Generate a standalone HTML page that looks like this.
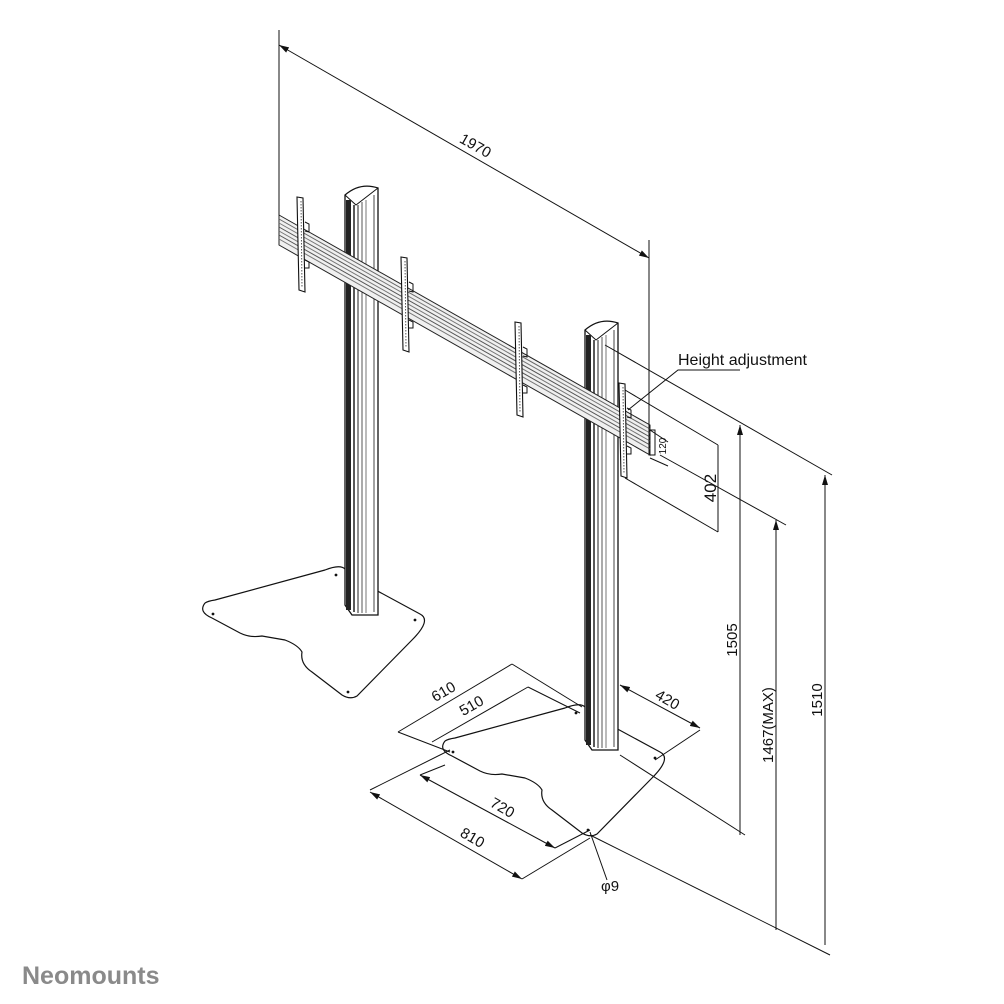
<!DOCTYPE html>
<html><head><style>
html,body{margin:0;padding:0;background:#fff}
svg{display:block}
text{font-family:"Liberation Sans",Arial,sans-serif;fill:#111}
</style></head><body>
<svg width="1004" height="1004" viewBox="0 0 1004 1004" xmlns="http://www.w3.org/2000/svg">
<defs>
<marker id="a" viewBox="0 0 10 6" refX="10" refY="3" markerWidth="10" markerHeight="6" orient="auto-start-reverse" markerUnits="userSpaceOnUse"><path d="M0,0 L10,3 L0,6z" fill="#111"/></marker>
<g id="pillar">
<path d="M345,195 Q360,182 378,188 L378,615 L352,615 L345,605 Z" fill="#fff" stroke="#111" stroke-width="1.3"/>
<path d="M345,195 L356,205 L378,188" fill="none" stroke="#111" stroke-width="1"/>
<rect x="346" y="200" width="5" height="410" fill="#222"/>
<line x1="354" y1="205" x2="354" y2="612" stroke="#222" stroke-width="1.5"/>
<line x1="358" y1="205" x2="358" y2="613" stroke="#222" stroke-width="1"/>
<line x1="362" y1="202" x2="362" y2="613" stroke="#555" stroke-width="1"/>
<line x1="366" y1="200" x2="366" y2="613" stroke="#777" stroke-width="1"/>
<line x1="374" y1="195" x2="374" y2="612" stroke="#444" stroke-width="1"/>
</g>
<g id="base">
<path d="M205,603 Q198,612 212,618 L240,633 Q250,638 262,636 L285,640 Q298,645 302,652 Q300,664 312,672 L342,695 Q350,700 357,696 L412,640 Q432,620 420,614 L372,588 M345,569 Q340,564 325,570 L215,600 Q208,601 205,603" fill="none" stroke="#111" stroke-width="1.2"/>
<circle cx="213" cy="614" r="1.4" fill="#111"/><circle cx="336" cy="575" r="1.4" fill="#111"/><circle cx="415" cy="620" r="1.4" fill="#111"/><circle cx="348" cy="692" r="1.4" fill="#111"/>
</g>
<g id="br">
<path d="M297,197 L303,198 L305,292 L299,290 Z" fill="#fff" stroke="#111" stroke-width="1.1"/>
<line x1="301" y1="201" x2="302" y2="288" stroke="#555" stroke-dasharray="1.5,1.5"/>
<path d="M305,222 L309,224 L309,232 L305,231 M305,260 L309,262 L309,268 L305,268" fill="none" stroke="#111"/>
</g>
</defs>

<use href="#base"/>
<use href="#base" transform="translate(240,138)"/>
<use href="#pillar"/>
<use href="#pillar" transform="translate(240,135)"/>

<g stroke-width="1">
<path d="M279,215 L650,425 L650,455 L279,245 Z" fill="#f0f0f0" stroke="#222"/>
<line x1="279" y1="219" x2="650" y2="429" stroke="#666"/>
<line x1="279" y1="223" x2="650" y2="433" stroke="#777"/>
<line x1="279" y1="227" x2="650" y2="437" stroke="#555"/>
<line x1="279" y1="231" x2="650" y2="441" stroke="#777"/>
<line x1="279" y1="235" x2="650" y2="445" stroke="#555"/>
<line x1="279" y1="239" x2="650" y2="449" stroke="#777"/>
</g>
<use href="#br"/>
<use href="#br" transform="translate(104,60)"/>
<use href="#br" transform="translate(218,125)"/>
<use href="#br" transform="translate(322,186)"/>

<g stroke="#111" stroke-width="1" fill="none">
<line x1="279" y1="30" x2="279" y2="215"/>
<line x1="649" y1="240" x2="649" y2="455"/>
<line x1="279" y1="45" x2="649" y2="258" marker-start="url(#a)" marker-end="url(#a)"/>
<polyline points="740,370 678,370 628,410"/>
<rect x="649" y="430" width="6" height="25"/>
<line x1="650" y1="430" x2="668" y2="442"/>
<line x1="650" y1="458" x2="668" y2="466"/>
<line x1="625" y1="390" x2="718" y2="445"/>
<line x1="625" y1="478" x2="718" y2="532"/>
<line x1="718" y1="445" x2="718" y2="532"/>
<line x1="605" y1="345" x2="832" y2="475"/>
<line x1="660" y1="455" x2="786" y2="525"/>
<line x1="620" y1="755" x2="745" y2="835"/>
<line x1="590" y1="835" x2="830" y2="955"/>
<line x1="740" y1="425" x2="740" y2="835" marker-start="url(#a)"/>
<line x1="776" y1="520" x2="776" y2="930" marker-start="url(#a)"/>
<line x1="825" y1="475" x2="825" y2="945" marker-start="url(#a)"/>
<line x1="398" y1="732" x2="512" y2="664"/>
<line x1="512" y1="664" x2="582" y2="707"/>
<line x1="398" y1="732" x2="450" y2="752"/>
<line x1="432" y1="742" x2="528" y2="687"/>
<line x1="528" y1="687" x2="580" y2="713"/>
<line x1="620" y1="685" x2="700" y2="728" marker-start="url(#a)" marker-end="url(#a)"/>
<line x1="655" y1="760" x2="700" y2="730"/>
<line x1="370" y1="790" x2="450" y2="750"/>
<line x1="420" y1="775" x2="445" y2="765"/>
<line x1="420" y1="775" x2="555" y2="848" marker-start="url(#a)" marker-end="url(#a)"/>
<line x1="370" y1="792" x2="522" y2="879" marker-start="url(#a)" marker-end="url(#a)"/>
<line x1="555" y1="848" x2="590" y2="830"/>
<line x1="522" y1="879" x2="590" y2="838"/>
<line x1="590" y1="832" x2="607" y2="880"/>
</g>

<g font-size="15">
<text x="473" y="150" transform="rotate(29.6 473 150)" text-anchor="middle">1970</text>
<text x="678" y="365" font-size="16">Height adjustment</text>
<text x="666" y="446" font-size="10" transform="rotate(-90 666 446)" text-anchor="middle">120</text>
<text x="716" y="488" font-size="17" transform="rotate(-90 716 488)" text-anchor="middle">402</text>
<text x="737" y="640" transform="rotate(-90 737 640)" text-anchor="middle">1505</text>
<text x="773" y="725" transform="rotate(-90 773 725)" text-anchor="middle">1467(MAX)</text>
<text x="822" y="700" transform="rotate(-90 822 700)" text-anchor="middle">1510</text>
<text x="446" y="696" transform="rotate(-30 446 696)" text-anchor="middle">610</text>
<text x="474" y="710" transform="rotate(-30 474 710)" text-anchor="middle">510</text>
<text x="665" y="704" transform="rotate(30 665 704)" text-anchor="middle">420</text>
<text x="500" y="812" transform="rotate(30 500 812)" text-anchor="middle">720</text>
<text x="470" y="842" transform="rotate(30 470 842)" text-anchor="middle">810</text>
<text x="601" y="891" text-anchor="start">φ9</text>
</g>
<text x="22" y="984" font-size="25" style="fill:#8a8a8a;font-weight:bold">Neomounts</text>
</svg>
</body></html>
